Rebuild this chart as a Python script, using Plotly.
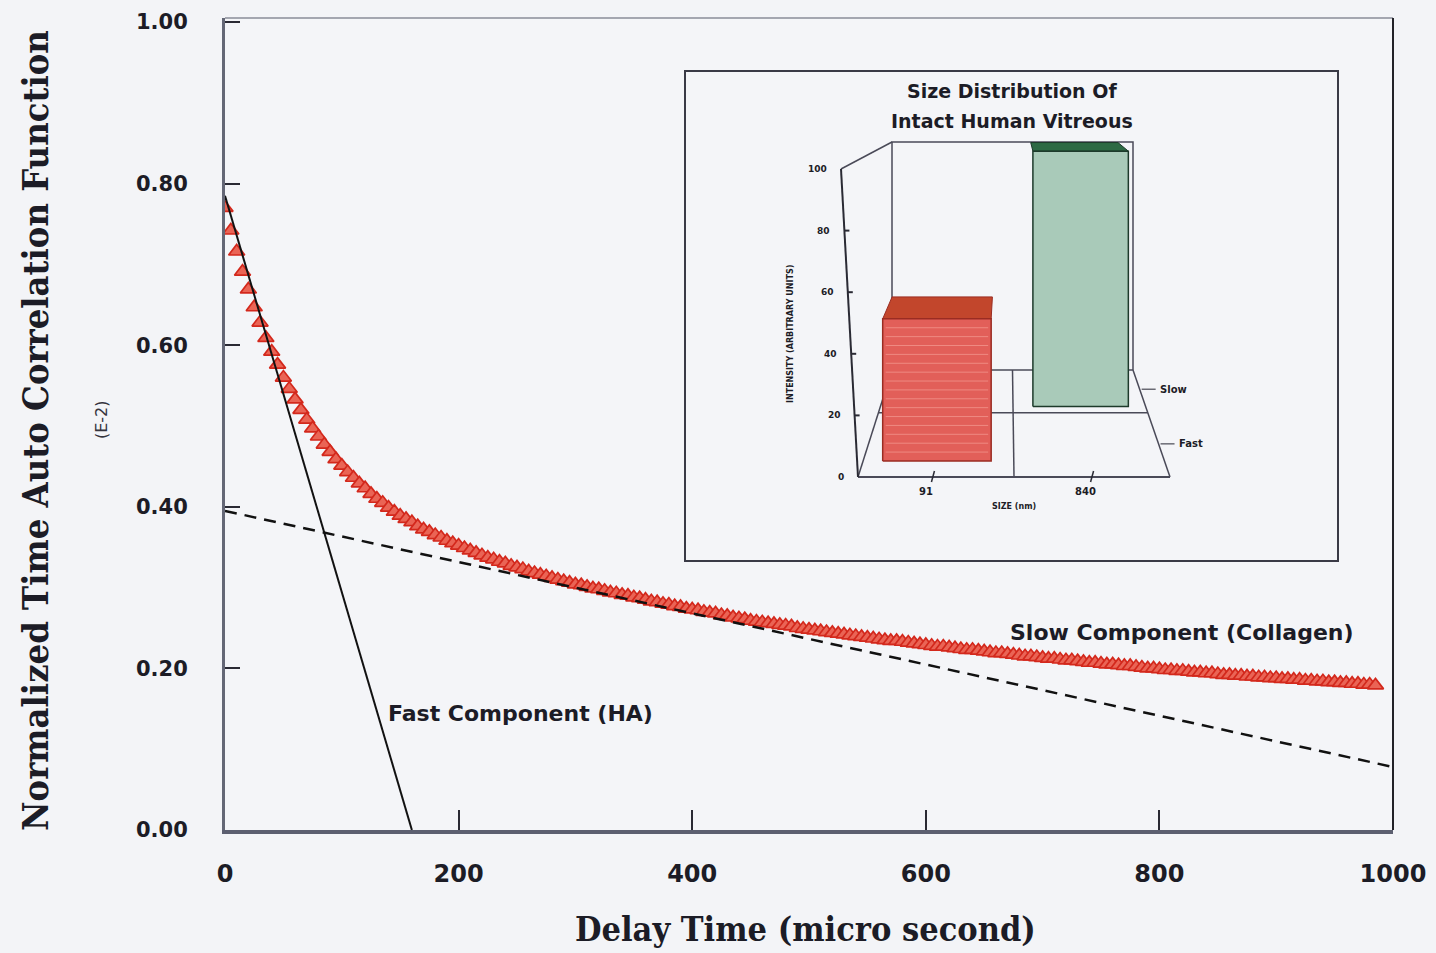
import plotly.graph_objects as go

W, H = 1436, 953

# ---------------- main panel data ----------------
# correlator delay channels (micro second)
delay_us = list(range(0, 990, 5))
# normalized time auto correlation function (x 1E-2)
acf = [
    0.770, 0.742, 0.716, 0.691, 0.669, 0.647, 0.628, 0.609, 0.592, 0.576,
    0.560, 0.546, 0.533, 0.520, 0.508, 0.497, 0.487, 0.477, 0.468, 0.459,
    0.451, 0.443, 0.436, 0.429, 0.423, 0.416, 0.410, 0.405, 0.399, 0.394,
    0.389, 0.385, 0.381, 0.376, 0.372, 0.369, 0.365, 0.362, 0.358, 0.355,
    0.352, 0.349, 0.346, 0.343, 0.340, 0.337, 0.335, 0.332, 0.330, 0.327,
    0.325, 0.323, 0.320, 0.318, 0.316, 0.314, 0.312, 0.310, 0.308, 0.306,
    0.304, 0.303, 0.301, 0.299, 0.298, 0.296, 0.294, 0.293, 0.291, 0.290,
    0.288, 0.287, 0.285, 0.283, 0.282, 0.280, 0.279, 0.277, 0.276, 0.274,
    0.273, 0.272, 0.270, 0.269, 0.268, 0.266, 0.265, 0.263, 0.262, 0.261,
    0.259, 0.258, 0.257, 0.256, 0.255, 0.254, 0.253, 0.252, 0.250, 0.249,
    0.248, 0.247, 0.246, 0.245, 0.244, 0.243, 0.242, 0.241, 0.240, 0.239,
    0.238, 0.237, 0.236, 0.235, 0.234, 0.234, 0.233, 0.232, 0.231, 0.230,
    0.229, 0.228, 0.227, 0.227, 0.226, 0.225, 0.224, 0.223, 0.223, 0.222,
    0.221, 0.220, 0.219, 0.219, 0.218, 0.217, 0.216, 0.215, 0.215, 0.214,
    0.213, 0.212, 0.212, 0.211, 0.210, 0.210, 0.209, 0.208, 0.207, 0.207,
    0.206, 0.205, 0.205, 0.204, 0.203, 0.203, 0.202, 0.201, 0.200, 0.200,
    0.199, 0.198, 0.198, 0.197, 0.197, 0.196, 0.195, 0.195, 0.194, 0.194,
    0.193, 0.192, 0.192, 0.191, 0.191, 0.190, 0.190, 0.189, 0.189, 0.188,
    0.188, 0.187, 0.187, 0.186, 0.186, 0.185, 0.185, 0.184, 0.184, 0.183,
    0.183, 0.182, 0.182, 0.181, 0.181, 0.180, 0.180, 0.179,
]

# linear fits of the two decay components
fast_t = [0, 160]
fast_g = [0.785, 0.0]
slow_t = [0, 1000]
slow_g = [0.395, 0.078]

x_ticks = [0, 200, 400, 600, 800, 1000]
y_ticks = [0.0, 0.2, 0.4, 0.6, 0.8, 1.0]

# ---------------- inset data ----------------
sizes_nm = ["91", "840"]
components = ["Fast", "Slow"]
fast_intensity = [48, 0]
slow_intensity = [0, 100]
inset_ticks = [0, 20, 40, 60, 80, 100]

INK = "#1c1c26"
SANS = "DejaVu Sans, Arial, sans-serif"
SERIF = "DejaVu Serif Condensed, DejaVu Serif, serif"

fig = go.Figure()

# measured points
fig.add_trace(go.Scatter(
    x=delay_us, y=acf, mode="markers",
    marker=dict(symbol="triangle-up", size=14, color="#ea6455",
                line=dict(color="#d3281c", width=1.7)),
    showlegend=False, hoverinfo="skip"))

# fast component
fig.add_trace(go.Scatter(
    x=fast_t, y=fast_g, mode="lines",
    line=dict(color="#111111", width=2),
    showlegend=False, hoverinfo="skip"))

# slow component
fig.add_trace(go.Scatter(
    x=slow_t, y=slow_g, mode="lines",
    line=dict(color="#111111", width=2.5, dash="12px,8px"),
    showlegend=False, hoverinfo="skip"))

# ---------------- inset: pseudo 3D bar chart ----------------
# frame geometry on the inset's pixel-like axes (front plane D=0, back D=1)
FLOOR_Y = (477, 370)
FULL_H = (308, 228)
LEFT_X = (858, 892)
RIGHT_X = (1170, 1133)
LEAN = 0.17  # slant of the front intensity axis


def lerp(a, b, t):
    return a + (b - a) * t


def proj(X, D, Z):
    yb = lerp(FLOOR_Y[0], FLOOR_Y[1], D)
    h = lerp(FULL_H[0], FULL_H[1], D)
    xl = lerp(LEFT_X[0], LEFT_X[1], D)
    xr = lerp(RIGHT_X[0], RIGHT_X[1], D)
    return xl + X * (xr - xl), yb - Z / 100.0 * h


def axis_pt(Z):
    u, v = proj(0, 0, Z)
    return u - LEAN * Z, v


def poly(points, fill, line_color, width=1.2):
    xs = [p[0] for p in points] + [points[0][0]]
    ys = [p[1] for p in points] + [points[0][1]]
    fig.add_trace(go.Scatter(
        x=xs, y=ys, mode="lines", fill="toself", fillcolor=fill,
        line=dict(color=line_color, width=width),
        xaxis="x2", yaxis="y2", showlegend=False, hoverinfo="skip"))


def seg(points, color="#4a4a58", width=1.5):
    fig.add_trace(go.Scatter(
        x=[p[0] for p in points], y=[p[1] for p in points], mode="lines",
        line=dict(color=color, width=width),
        xaxis="x2", yaxis="y2", showlegend=False, hoverinfo="skip"))


# floor and walls
seg([proj(0, 0, 0), proj(1, 0, 0)], width=2)
seg([proj(0, 0, 0), proj(0, 1, 0)])
seg([proj(1, 0, 0), proj(1, 1, 0)])
seg([proj(0, 1, 0), proj(1, 1, 0)])
seg([proj(0, 0.6, 0), proj(1, 0.6, 0)])
seg([proj(0.5, 0, 0), proj(0.5, 1, 0)])
seg([proj(0, 1, 0), proj(0, 1, 100), proj(1, 1, 100), proj(1, 1, 0)])
seg([axis_pt(100), proj(0, 1, 100)])
seg([axis_pt(0), axis_pt(100)], color="#2a2a34", width=2)
for z in inset_ticks[1:-1]:
    u, v = axis_pt(z)
    seg([(u, v), (u + 5, v)], color="#2a2a34", width=2)

# bars: one row per component, one column per size class
BAR_STYLE = {
    "Fast": dict(front="#e25f59", top="#c2462c", edge="#9a2c22"),
    "Slow": dict(front="#a9cab9", top="#2d6a44", edge="#1d3a2b"),
}
series = {"Fast": fast_intensity, "Slow": slow_intensity}
for j, comp in enumerate(components):
    d0 = 0.31 + 0.51 * j - 0.16
    d1 = 0.31 + 0.51 * j + 0.16
    for i, val in enumerate(series[comp]):
        if val <= 0:
            continue
        x0 = 0.245 + 0.51 * i - 0.18
        x1 = 0.245 + 0.51 * i + 0.18
        st = BAR_STYLE[comp]
        poly([proj(x0, d0, val), proj(x1, d0, val), proj(x1, d1, val), proj(x0, d1, val)],
             st["top"], st["edge"], 1)
        poly([proj(x0, d0, 0), proj(x1, d0, 0), proj(x1, d0, val), proj(x0, d0, val)],
             st["front"], st["edge"], 1.5)
        if comp == "Fast":
            z = 3.0
            while z < val - 1:
                seg([proj(x0 + 0.01, d0, z), proj(x1 - 0.01, d0, z)],
                    color="rgba(255,190,180,0.45)", width=1)
                z += 3.0

annotations = []


def inset_text(x, y, text, size, xanchor="center", angle=0, yanchor="middle"):
    annotations.append(dict(
        x=x, y=y, xref="x2", yref="y2", text=text, showarrow=False,
        xanchor=xanchor, yanchor=yanchor, textangle=angle,
        font=dict(family=SANS, size=size, color=INK, weight="bold")))


for z in inset_ticks:
    u, v = axis_pt(z)
    inset_text(u - 12, v, str(z), 9, xanchor="right")

for i, lab in enumerate(sizes_nm):
    u, v = proj(0.245 + 0.51 * i, 0, 0)
    seg([(u, v - 6), (u - 3, v + 5)], color="#2a2a34", width=1.5)
    inset_text(u - 8, v + 14, lab, 10)

u, v = proj(0.5, 0, 0)
inset_text(u, v + 29, "SIZE (nm)", 8)
inset_text(790, 334, "INTENSITY (ARBITRARY UNITS)", 8, angle=-90)

for j, comp in enumerate(components):
    u, v = proj(1, 0.31 + 0.51 * j, 0)
    seg([(u + 2, v), (u + 16, v)], color="#6a6a74", width=1.5)
    inset_text(u + 18, v, comp, 10, xanchor="left")

inset_text(1012, 91, "Size Distribution Of", 19)
inset_text(1012, 121, "Intact Human Vitreous", 19)

# ---------------- main panel labels ----------------
annotations += [
    dict(x=138, y=0.144, xref="x", yref="y", text="Fast Component (HA)",
         showarrow=False, xanchor="left", yanchor="middle",
         font=dict(family=SANS, size=22, color=INK, weight="bold")),
    dict(x=670, y=0.244, xref="x", yref="y", text="Slow Component (Collagen)",
         showarrow=False, xanchor="left", yanchor="middle",
         font=dict(family=SANS, size=22, color=INK, weight="bold")),
    dict(x=35 / W, y=1 - 431 / H, xref="paper", yref="paper",
         text="Normalized Time Auto Correlation Function", textangle=-90,
         showarrow=False, xanchor="center", yanchor="middle",
         font=dict(family=SERIF, size=36, color=INK, weight="bold")),
    dict(x=805 / W, y=1 - 929 / H, xref="paper", yref="paper",
         text="Delay Time (micro second)",
         showarrow=False, xanchor="center", yanchor="middle",
         font=dict(family=SERIF, size=34, color=INK, weight="bold")),
    dict(x=101 / W, y=1 - 420 / H, xref="paper", yref="paper",
         text="(E-2)", textangle=-90,
         showarrow=False, xanchor="center", yanchor="middle",
         font=dict(family=SANS, size=16, color="#33333d")),
]

fig.update_layout(
    width=W, height=H, autosize=False,
    margin=dict(l=0, r=0, t=0, b=0, autoexpand=False),
    paper_bgcolor="#f3f4f7", plot_bgcolor="#f4f5f8",
    showlegend=False,
    annotations=annotations,
    xaxis=dict(
        domain=[225 / W, 1393 / W], range=[0, 1000], automargin=False,
        tickvals=x_ticks, ticktext=[str(v) for v in x_ticks],
        ticks="inside", ticklen=20, tickwidth=2, tickcolor="#2a2a34",
        ticklabelstandoff=19,
        tickfont=dict(family=SANS, size=24, color=INK, weight="bold"),
        showline=True, linewidth=4, linecolor="#5c5f70",
        showgrid=False, zeroline=False),
    yaxis=dict(
        domain=[(H - 830) / H, (H - 18) / H], range=[0, 1.005], automargin=False,
        tickvals=y_ticks, tickformat=".2f",
        ticks="inside", ticklen=15, tickwidth=2, tickcolor="#2a2a34",
        ticklabelstandoff=30,
        tickfont=dict(family=SANS, size=21, color=INK, weight="bold"),
        showline=True, linewidth=3, linecolor="#646776",
        showgrid=False, zeroline=False),
    xaxis2=dict(
        domain=[686 / W, 1337 / W], range=[686, 1337], anchor="y2", automargin=False,
        showline=True, mirror=True, linewidth=2, linecolor="#3a3a46",
        showticklabels=False, ticks="", showgrid=False, zeroline=False),
    yaxis2=dict(
        domain=[(H - 560) / H, (H - 72) / H], range=[560, 72], anchor="x2", automargin=False,
        showline=True, mirror=True, linewidth=2, linecolor="#3a3a46",
        showticklabels=False, ticks="", showgrid=False, zeroline=False),
    shapes=[
        dict(type="line", xref="x domain", yref="y domain", x0=0, x1=1, y0=1, y1=1,
             line=dict(color="#8a8c98", width=1.5)),
        dict(type="line", xref="x domain", yref="y domain", x0=1, x1=1, y0=0, y1=1,
             line=dict(color="#222228", width=2)),
    ],
)

fig.write_html("out.html")
